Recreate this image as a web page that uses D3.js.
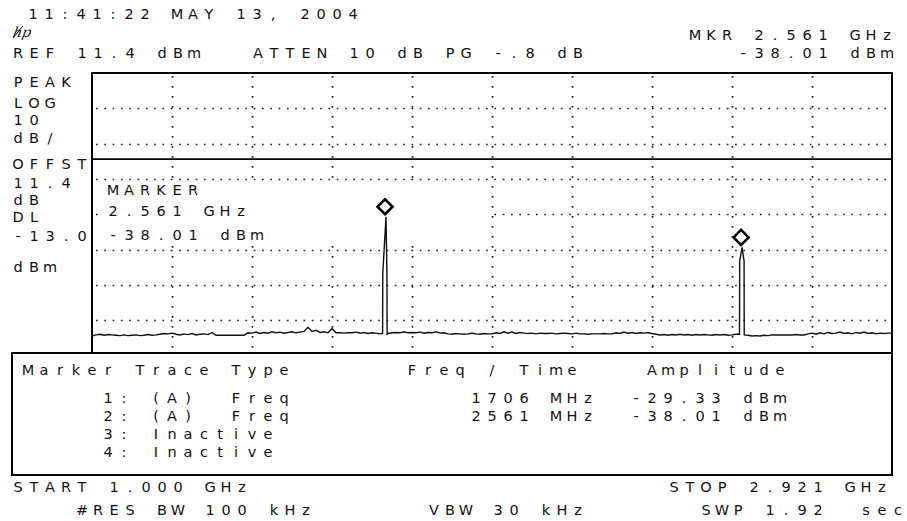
<!DOCTYPE html>
<html>
<head>
<meta charset="utf-8">
<script src="https://cdn.jsdelivr.net/npm/d3@7"></script>
<style>
  html, body { margin: 0; background: #fff; }
  svg { display: block; }
</style>
</head>
<body>
<svg id="chart" width="907" height="521"></svg>
<script>
// Spectrum analyzer screen dump, 1.000 - 2.921 GHz sweep

// sweep + amplitude settings
const startGHz = 1.000;
const stopGHz = 2.921;
const refLevel = 11.4;     // dBm, top graticule
const dbPerDiv = 10;
const displayLine = -13.0; // DL

// markers
const markerFreqs = [1.706, 2.561];
const markerAmps = [-29.33, -38.01];

// trace: noise floor, evenly spaced over the sweep (dBm)
const noiseDbm = [
  -63.1, -62.8, -62.6, -62.9, -62.7, -62.8, -62.9, -63.0, -62.8, -63.0,
  -62.9, -62.8, -63.0, -62.9, -62.7, -62.9, -62.8, -62.6, -62.4, -62.5,
  -62.3, -62.6, -62.8, -62.5, -62.7, -62.4, -62.8, -62.6, -62.5, -62.7,
  -62.1, -62.9, -62.9, -62.9, -62.9, -62.9, -62.9, -62.9, -62.9, -62.2,
  -62.3, -62.0, -62.4, -62.1, -62.3, -61.9, -62.2, -62.0, -62.3, -62.1,
  -61.9, -62.2, -62.0, -61.8, -60.6, -61.8, -61.5, -62.1, -61.9, -62.2,
  -61.0, -62.2, -62.2, -62.3, -62.2, -62.2, -62.0, -62.3, -62.1, -62.4,
  -62.2, -62.3, -62.5, -62.4, -62.4, -62.2, -62.1, -62.2, -61.9, -62.2,
  -62.1, -62.2, -62.0, -62.3, -62.1, -62.2, -61.9, -62.3, -62.2, -62.5,
  -62.6, -62.4, -62.5, -62.6, -62.5, -62.3, -62.5, -62.6, -62.4, -62.5,
  -62.5, -62.2, -62.4, -61.9, -62.3, -62.0, -62.4, -62.1, -62.3, -62.4,
  -62.3, -62.5, -62.3, -62.4, -62.4, -62.3, -62.5, -62.4, -62.3, -62.4,
  -62.5, -62.3, -62.5, -62.5, -62.6, -62.5, -62.5, -62.5, -62.4, -62.5,
  -62.5, -62.2, -62.4, -62.0, -62.3, -62.1, -62.4, -62.2, -62.3, -62.1,
  -62.4, -62.6, -62.8, -62.7, -62.9, -62.7, -62.8, -62.6, -62.8, -62.7,
  -62.9, -62.7, -62.8, -62.7, -62.8, -62.9, -62.7, -62.8, -62.7, -62.9,
  -62.8, -62.6, -62.7, -62.7, -62.9, -63.1, -63.0, -63.1, -62.9, -63.0,
  -62.8, -62.8, -62.8, -62.8, -62.8, -62.8, -62.7, -62.8, -62.8, -62.5,
  -62.3, -62.6, -62.2, -62.5, -62.1, -62.4, -62.3, -62.0, -62.4, -62.2,
  -62.5, -62.1, -62.3, -62.0, -62.4, -62.2, -62.5, -62.3, -62.4, -62.3,
  -62.3
];

// the two signals [GHz, dBm]
const spike1 = [[1.6978, -62.4], [1.6982, -45.4], [1.7060, -29.33], [1.7082, -45.4], [1.7086, -62.6]];
const spike2 = [[2.5548, -62.6], [2.5552, -41.9], [2.5610, -38.01], [2.5658, -41.9], [2.5662, -62.8]];

// screen annotations
const dateText = "11:41:22 MAY 13, 2004";
const refText = "REF 11.4 dBm   ATTEN 10 dB PG -.8 dB";
const mkrText = ["MKR 2.561 GHz", "-38.01 dBm"];
const leftLabels = ["PEAK", "LOG", "10", "dB/", "OFFST", "11.4", "dB", "DL", "-13.0", "dBm"];
const markerBox = ["MARKER", "2.561 GHz", "-38.01 dBm"];
const tableLines = [
  "Marker Trace Type       Freq / Time    Amplitude",
  "     1: (A)  Freq           1706 MHz  -29.33 dBm",
  "     2: (A)  Freq           2561 MHz  -38.01 dBm",
  "     3: Inactive",
  "     4: Inactive"
];
const bottomLeft = ["START 1.000 GHz", "    #RES BW 100 kHz"];
const vbwText = "VBW 30 kHz";
const bottomRight = ["STOP 2.921 GHz", "  SWP 1.92  sec"];

// layout
const W = 907, H = 521;
const plot = { x: 92, y: 73, w: 800, h: 353 };   // full 10x10 graticule
const tableTop = 353, tableBottom = 475;
const pitch = 16;                                // char cell width
const ink = "#000";

const svg = d3.select("#chart");
svg.append("rect").attr("width", W).attr("height", H).attr("fill", "#fff");

const x = d3.scaleLinear().domain([startGHz, stopGHz]).range([plot.x, plot.x + plot.w]);
const y = d3.scaleLinear()
  .domain([refLevel - 10 * dbPerDiv, refLevel])
  .range([plot.y + plot.h, plot.y]);

// fixed-pitch text, one glyph per cell like the instrument font
function mono(g, str, x0, yb, anchor) {
  const chars = [], xs = [];
  const left = anchor === "end" ? x0 - str.length * pitch : x0;
  [...str].forEach((c, i) => {
    if (c === " ") return;
    chars.push(c);
    xs.push(left + i * pitch + 5);
  });
  return g.append("text")
    .attr("x", xs.join(" "))
    .attr("y", yb)
    .attr("text-anchor", "middle")
    .attr("font-family", "'DejaVu Sans', sans-serif")
    .attr("font-size", 14.5)
    .attr("fill", "#111")
    .text(chars.join(""));
}

const defs = svg.append("defs");
defs.append("clipPath").attr("id", "plotClip")
  .append("rect").attr("x", plot.x).attr("y", plot.y).attr("width", plot.w).attr("height", tableTop - plot.y);

// graticule
const grid = svg.append("g").attr("clip-path", "url(#plotClip)");
const xDivs = d3.range(1, 10).map(i => startGHz + i * (stopGHz - startGHz) / 10);
const yDivs = d3.range(1, 10).map(i => refLevel - i * dbPerDiv);

grid.selectAll("line.v").data(xDivs).join("line")
  .attr("class", "v")
  .attr("x1", d => Math.round(x(d)) + 0.5).attr("x2", d => Math.round(x(d)) + 0.5)
  .attr("y1", plot.y + 3).attr("y2", plot.y + plot.h)
  .attr("stroke", "#222").attr("stroke-width", 1.7)
  .attr("stroke-dasharray", "1.7 8.3");

grid.selectAll("line.h").data(yDivs).join("line")
  .attr("class", "h")
  .attr("x1", plot.x + 4).attr("x2", plot.x + plot.w)
  .attr("y1", d => Math.round(y(d)) + 0.5).attr("y2", d => Math.round(y(d)) + 0.5)
  .attr("stroke", "#222").attr("stroke-width", 1.7)
  .attr("stroke-dasharray", "1.7 6.6");

// display line
grid.append("line")
  .attr("x1", plot.x).attr("x2", plot.x + plot.w)
  .attr("y1", y(displayLine)).attr("y2", y(displayLine))
  .attr("stroke", ink).attr("stroke-width", 1.8);

// marker readout box blanks the graticule behind it
grid.append("rect")
  .attr("x", 102).attr("y", 181).attr("width", 386).attr("height", 65)
  .attr("fill", "#fff");
markerBox.forEach((t, i) => mono(svg, t, 108, [195, 216, 240][i]));

// trace
const step = (stopGHz - startGHz) / (noiseDbm.length - 1);
let trace = noiseDbm.map((v, i) => [startGHz + i * step, v]);
[spike1, spike2].forEach(sp => {
  const lo = sp[0][0], hi = sp[sp.length - 1][0];
  trace = trace.filter(p => p[0] < lo || p[0] > hi).concat(sp);
});
trace.sort((a, b) => a[0] - b[0]);

grid.append("path")
  .datum(trace)
  .attr("fill", "none")
  .attr("stroke", "#111")
  .attr("stroke-width", 1.4)
  .attr("stroke-linejoin", "miter")
  .attr("d", d3.line().x(d => x(d[0])).y(d => y(d[1])));

// marker diamonds sit just above the marked point
const mk = svg.append("g");
markerFreqs.forEach((f, i) => {
  const cx = x(f) - 1, cy = y(markerAmps[i]) - 10, r = 7.5;
  mk.append("path")
    .attr("d", `M${cx},${cy - r}L${cx + r},${cy}L${cx},${cy + r}L${cx - r},${cy}Z`)
    .attr("fill", "#fff").attr("stroke", ink).attr("stroke-width", 2.6);
});

// plot frame
svg.append("path")
  .attr("d", `M${plot.x},${tableTop}V${plot.y}H${plot.x + plot.w}V${tableTop}`)
  .attr("fill", "none").attr("stroke", ink).attr("stroke-width", 2);

// marker table
svg.append("rect")
  .attr("x", 12).attr("y", tableTop).attr("width", plot.x + plot.w - 12).attr("height", tableBottom - tableTop)
  .attr("fill", "#fff").attr("stroke", ink).attr("stroke-width", 2);
const tableY = [375, 403, 421, 439, 457];
tableLines.forEach((t, i) => mono(svg, t, 23, tableY[i]));

// header
mono(svg, dateText, 28, 19);
mono(svg, refText, 13, 58);
mono(svg, mkrText[0], 898, 40, "end");
mono(svg, mkrText[1], 898, 58, "end");

// little hp logo
svg.append("text")
  .attr("x", 20).attr("y", 37)
  .attr("font-family", "'DejaVu Serif', serif").attr("font-style", "italic")
  .attr("font-size", 14).attr("fill", "#111")
  .attr("transform", "skewX(-12)")
  .text("hp");
svg.append("line").attr("x1", 13).attr("y1", 38).attr("x2", 23).attr("y2", 26)
  .attr("stroke", "#111").attr("stroke-width", 1);

// left settings column
const leftY = [87, 108, 125, 143, 169, 188, 205, 222, 241, 272];
leftLabels.forEach((t, i) => mono(svg, t, 13, leftY[i]));

// bottom settings
mono(svg, bottomLeft[0], 13, 492);
mono(svg, bottomLeft[1], 13, 515);
mono(svg, vbwText, 429, 515);
mono(svg, bottomRight[0], 669, 492);
mono(svg, bottomRight[1], 669, 515);
</script>
</body>
</html>
